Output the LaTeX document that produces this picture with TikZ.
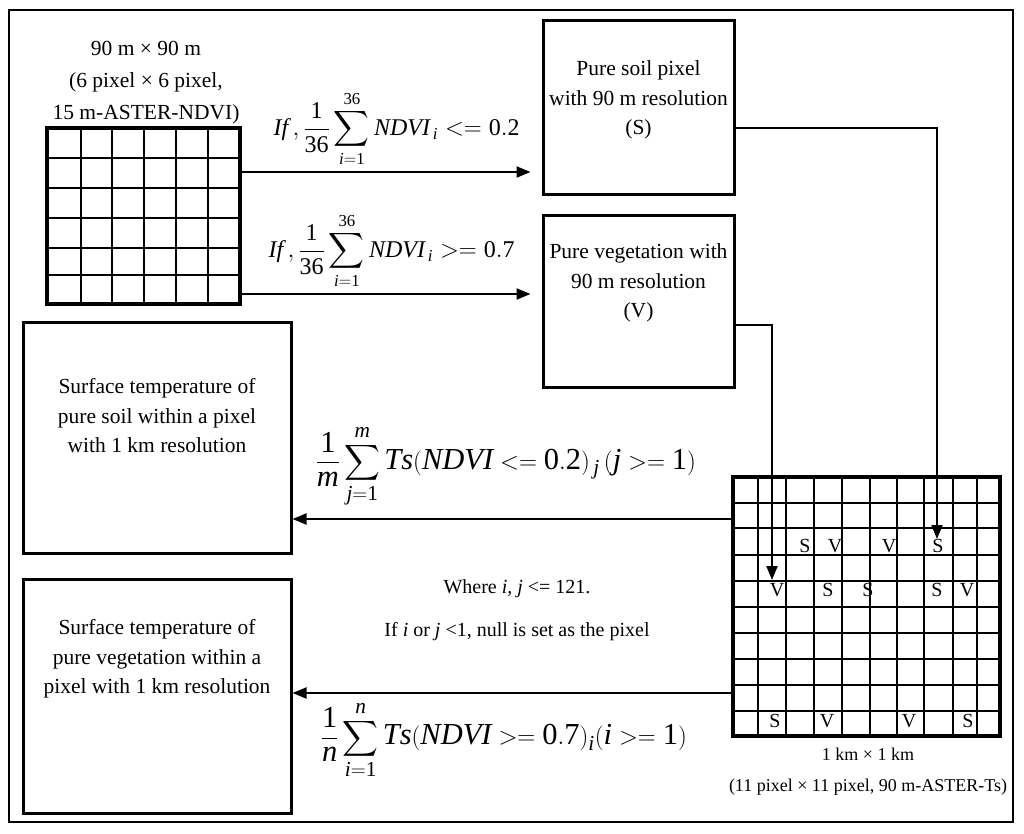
\documentclass[tikz,border=0pt]{standalone}
\usepackage{exscale}
\usepackage{fontspec}
\setmainfont{Liberation Serif}
\usetikzlibrary{arrows.meta,positioning}

\begin{document}
\begin{tikzpicture}[x=1pt,y=-1pt,>={Triangle[length=14pt,width=11pt]},line width=2pt,
    boxnode/.style={draw, line width=3pt, inner sep=0pt},
    txt/.style={align=center, font=\fontsize{21.5}{29.5}\selectfont},
    smalltxt/.style={align=center, font=\fontsize{18}{31}\selectfont},
    mathlbl/.style={inner sep=0pt, font=\fontsize{24}{26}\selectfont},
    biglbl/.style={inner sep=0pt, font=\fontsize{30.5}{30}\selectfont},
    cellmark/.style={inner sep=0pt, font=\fontsize{20}{20}\selectfont}]
  \useasboundingbox (0,0) rectangle (1024,833);
  \draw (9,10) rectangle (1013,822);

  % 90 m x 90 m window
  \foreach \x in {81,112,144,176,208} \draw (\x,128) -- (\x,304);
  \foreach \y in {158,188,218,248,275} \draw (47,\y) -- (240,\y);
  \node (ndvi) [boxnode, line width=3.5pt, minimum width=193pt, minimum height=176pt] at (143.5,216) {};
  \node (ndvilbl) [txt, font=\fontsize{21.5}{32}\selectfont] at (146,83) {90 m × 90 m\\(6 pixel × 6 pixel,\\15 m-ASTER-NDVI)};

  % pure pixels
  \node (soil) [boxnode, minimum width=191pt, minimum height=174pt] at (638.5,107) {};
  \node (soiltxt) [txt] at (638.5,100) {Pure soil pixel\\with 90 m resolution\\(S)};
  \node (veg) [boxnode, minimum width=191pt, minimum height=172pt] at (638.5,301) {};
  \node (vegtxt) [txt] at (638.5,283) {Pure vegetation with\\90 m resolution\\(V)};

  % surface temperature boxes
  \node (sts) [boxnode, minimum width=268pt, minimum height=231pt] at (157,437.5) {};
  \node (ststxt) [txt] at (157,416) {Surface temperature of\\pure soil within a pixel\\with 1 km resolution};
  \node (stv) [boxnode, minimum width=268pt, minimum height=234pt] at (157,696) {};
  \node (stvtxt) [txt] at (157,659) {Surface temperature of\\pure vegetation within a\\pixel with 1 km resolution};

  % 1 km x 1 km window
  \foreach \x in {758,786,814,842,870,897,924,953,977} \draw (\x,477) -- (\x,736);
  \foreach \y in {503,528,555,581,607,633,659,685,711} \draw (733,\y) -- (1000,\y);
  \node (ts) [boxnode, line width=3.5pt, minimum width=267pt, minimum height=259pt] at (866.5,606.5) {};
  \node (tslbl) [smalltxt] at (868,772) {1 km × 1 km\\(11 pixel × 11 pixel, 90 m-ASTER-Ts)};
  \foreach \x/\y/\t [count=\k] in {805/546/S,835/546/V,889/546/V,938/546/S,
      777/590/V,828/590/S,868/590/S,937/590/S,967/590/V,
      775/721/S,827/721/V,909/721/V,968/721/S}
    \node (mark\k) [cellmark] at (\x,\y) {\t};

  \coordinate (tipS) at (937,539);
  \coordinate (tipV) at (772,580);

  % connectors
  \draw[->, shorten >=11pt] ([yshift=44pt]ndvi.east) -- ([yshift=44pt]ndvi.east -| soil.west)
    node (f1) [mathlbl, midway, above=4pt, xshift=5pt] {$\displaystyle \mathit{If}\,,\frac{\mathrm{1}}{\mathrm{36}}\sum_{\mathit{i}=\mathrm{1}}^{\mathrm{36}}\mathit{NDVI}_{\,\mathit{i}} <= \mathrm{0.2}$};
  \draw[->, shorten >=11pt] ([yshift=-78pt]ndvi.east) -- ([yshift=-78pt]ndvi.east -| veg.west)
    node (f2) [mathlbl, midway, above=4pt] {$\displaystyle \mathit{If}\,,\frac{\mathrm{1}}{\mathrm{36}}\sum_{\mathit{i}=\mathrm{1}}^{\mathrm{36}}\mathit{NDVI}_{\,\mathit{i}} >= \mathrm{0.7}$};
  \draw[->] ([yshift=-21pt]soil.east) -| (tipS);
  \draw[->] ([yshift=-24pt]veg.east) -| (tipV);
  \draw[->] ([yshift=87.5pt]ts.west) -- ([yshift=87.5pt]ts.west -| sts.east)
    node (f3) [biglbl, midway, above=10pt, xshift=-6pt] {$\displaystyle \frac{\mathrm{1}}{\mathit{m}}\sum_{\mathit{j}=\mathrm{1}}^{\mathit{m}}\mathit{Ts}(\mathit{NDVI} <= \mathrm{0.2})_{\,\mathit{j}}\,(\mathit{j} >= \mathrm{1})$};
  \draw[->] ([yshift=-86.5pt]ts.west) -- ([yshift=-86.5pt]ts.west -| stv.east)
    node (f4) [biglbl, midway, below=7pt, xshift=-8pt] {$\displaystyle \frac{\mathrm{1}}{\mathit{n}}\sum_{\mathit{i}=\mathrm{1}}^{\mathit{n}}\mathit{Ts}(\mathit{NDVI} >= \mathrm{0.7})_{\mathit{i}}(\mathit{i} >= \mathrm{1})$};

  \node (where) [smalltxt, font=\fontsize{20}{43}\selectfont] at (517,610) {Where \textit{i, j} <= 121.\\If \textit{i} or \textit{j} <1, null is set as the pixel};
\end{tikzpicture}
\end{document}
